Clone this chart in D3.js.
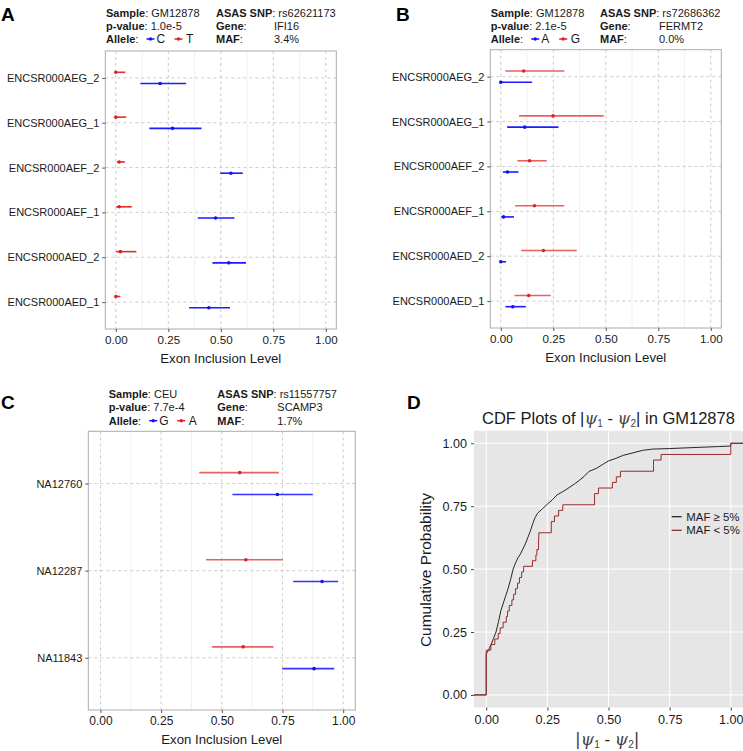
<!DOCTYPE html>
<html><head><meta charset="utf-8">
<script src="https://cdn.jsdelivr.net/npm/d3@7"></script>
<style>
body{margin:0;background:#fff}
svg{display:block;font-family:"Liberation Sans",Arial,Helvetica,sans-serif}
</style>
</head><body>
<svg id="c" width="743" height="751"></svg>
<script>
// ---------------- DATA ----------------
const xTicks = [0, 0.25, 0.5, 0.75, 1];
const xMinor = [0.125, 0.375, 0.625, 0.875];

// Panel A  (alleles: blue = C, red = T)
const aRows = ["ENCSR000AEG_2","ENCSR000AEG_1","ENCSR000AEF_2","ENCSR000AEF_1","ENCSR000AED_2","ENCSR000AED_1"];
const aRedPsi  = [0.000, 0.000, 0.016, 0.016, 0.022, 0.000];
const aRedLo   = [0.000, 0.000, 0.006, 0.002, 0.002, 0.000];
const aRedHi   = [0.045, 0.050, 0.043, 0.076, 0.098, 0.022];
const aBluePsi = [0.211, 0.270, 0.548, 0.475, 0.538, 0.443];
const aBlueLo  = [0.117, 0.160, 0.497, 0.390, 0.460, 0.349];
const aBlueHi  = [0.335, 0.408, 0.605, 0.565, 0.620, 0.544];
const aInfo    = ["GM12878", "1.0e-5", "rs62621173", "IFI16", "3.4%"];
const aAlleles = ["C", "T"];

// Panel B  (blue = A, red = G)
const bRows = aRows;
const bRedPsi  = [0.109, 0.249, 0.137, 0.160, 0.203, 0.133];
const bRedLo   = [0.022, 0.087, 0.079, 0.068, 0.097, 0.065];
const bRedHi   = [0.303, 0.490, 0.219, 0.302, 0.362, 0.238];
const bBluePsi = [0.000, 0.114, 0.032, 0.013, 0.000, 0.057];
const bBlueLo  = [0.000, 0.030, 0.010, 0.002, 0.000, 0.022];
const bBlueHi  = [0.149, 0.275, 0.084, 0.063, 0.025, 0.119];
const bInfo    = ["GM12878", "2.1e-5", "rs72686362", "FERMT2", "0.0%"];
const bAlleles = ["A", "G"];

// Panel C  (blue = G, red = A)
const cRows = ["NA12760","NA12287","NA11843"];
const cRedPsi  = [0.574, 0.599, 0.588];
const cRedLo   = [0.407, 0.435, 0.460];
const cRedHi   = [0.735, 0.751, 0.713];
const cBluePsi = [0.729, 0.913, 0.880];
const cBlueLo  = [0.544, 0.794, 0.749];
const cBlueHi  = [0.875, 0.979, 0.963];
const cInfo    = ["CEU", "7.7e-4", "rs11557757", "SCAMP3", "1.7%"];
const cAlleles = ["G", "A"];

// Panel D  ECDFs
const dTicks = [0, 0.25, 0.5, 0.75, 1];
// MAF < 5%: sorted |psi1 - psi2| values (n = 45)
const lowMafValues = [0,0,0,0,0,0,0,0,
  0.019,0.035,0.049,0.057,0.069,0.082,0.087,0.094,0.105,0.112,0.120,0.128,0.136,0.145,0.153,
  0.189,0.203,0.207,0.214,0.214,0.215,0.266,0.266,0.279,0.296,0.313,
  0.443,0.443,0.459,0.516,0.532,0.549,0.684,0.684,0.715,1.0,1.0];
// MAF >= 5%: cumulative curve (x, cumulative probability)
const highMafX = [0,0,0.01,0.02,0.03,0.04,0.05,0.06,0.07,0.08,0.09,0.10,0.11,0.12,0.13,0.14,0.15,0.16,0.17,0.18,0.19,0.20,0.21,0.23,0.25,0.27,0.29,0.31,0.33,0.36,0.38,0.40,0.42,0.45,0.47,0.50,0.53,0.56,0.60,0.64,0.68,0.75,0.85,0.95,1.0,1.0];
const highMafY = [0,0.162,0.18,0.20,0.225,0.25,0.29,0.335,0.365,0.395,0.425,0.46,0.50,0.525,0.545,0.56,0.58,0.60,0.625,0.65,0.68,0.705,0.722,0.74,0.758,0.775,0.795,0.806,0.818,0.838,0.852,0.868,0.888,0.90,0.912,0.93,0.94,0.952,0.962,0.972,0.977,0.979,0.983,0.987,0.989,1.0];
const legendLabels = ["MAF \u2265 5%", "MAF < 5%"];

// ---------------- DRAWING ----------------
const svg = d3.select("#c");
svg.append("rect").attr("width", 743).attr("height", 751).attr("fill", "#fff");
const BLUE = "#1010ff", RED = "#e02020";
const TXT = "#1a1a1a";

function panelLetter(t, x, y) {
  svg.append("text").attr("x", x).attr("y", y).attr("font-size", 19).attr("font-weight", "bold")
    .attr("fill", "#000").text(t);
}

function header(info, alleles, x1, x2, xv, ys) {
  const g = svg.append("g").attr("font-size", 11).attr("fill", TXT);
  function lab(x, y, bold, rest) {
    const t = g.append("text").attr("x", x).attr("y", y);
    t.append("tspan").attr("font-weight", "bold").text(bold);
    t.append("tspan").text(rest);
  }
  lab(x1, ys[0], "Sample", ": " + info[0]);
  lab(x1, ys[1], "p-value", ": " + info[1]);
  lab(x1, ys[2], "Allele", ":");
  lab(x2, ys[0], "ASAS SNP", ": " + info[2]);
  lab(x2, ys[1], "Gene", ":");
  lab(x2, ys[2], "MAF", ":");
  g.append("text").attr("x", xv).attr("y", ys[1]).text(info[3]);
  g.append("text").attr("x", xv).attr("y", ys[2]).text(info[4]);
  // allele legend
  const ky = ys[2] - 4;
  const keys = [{c: BLUE, k: x1 + 44.5, t: x1 + 50.5, a: alleles[0]}, {c: RED, k: x1 + 72.5, t: x1 + 80, a: alleles[1]}];
  keys.forEach(d => {
    g.append("line").attr("x1", d.k - 4).attr("x2", d.k + 4).attr("y1", ky).attr("y2", ky)
      .attr("stroke", d.c).attr("stroke-width", 1.5);
    g.append("circle").attr("cx", d.k).attr("cy", ky).attr("r", 1.7).attr("fill", d.c);
    g.append("text").attr("x", d.t).attr("y", ys[2]).attr("font-size", 12).text(d.a);
  });
}

function forest(o) {
  const g = svg.append("g");
  const x = d3.scaleLinear().domain([-0.05, 1.05]).range([o.left, o.right]);
  const y = d3.scalePoint().domain(o.rows).range([o.top, o.bottom]).padding(0.6);
  const dodge = y.step() * 0.125;
  // minor grid
  g.selectAll(".mn").data(xMinor).join("line")
    .attr("x1", d => x(d)).attr("x2", d => x(d)).attr("y1", o.top).attr("y2", o.bottom)
    .attr("stroke", "#ececec").attr("stroke-width", 0.8);
  // major grid (dashed)
  g.selectAll(".mj").data(xTicks).join("line")
    .attr("x1", d => x(d)).attr("x2", d => x(d)).attr("y1", o.top).attr("y2", o.bottom)
    .attr("stroke", "#c6c6c6").attr("stroke-width", 0.9).attr("stroke-dasharray", "3,3");
  g.selectAll(".hr").data(o.rows).join("line")
    .attr("x1", o.left).attr("x2", o.right).attr("y1", d => y(d)).attr("y2", d => y(d))
    .attr("stroke", "#c6c6c6").attr("stroke-width", 0.9).attr("stroke-dasharray", "3,3");
  // border
  g.append("rect").attr("x", o.left).attr("y", o.top).attr("width", o.right - o.left)
    .attr("height", o.bottom - o.top).attr("fill", "none").attr("stroke", "#ababab").attr("stroke-width", 1);
  // axes
  const ax = g.append("g").attr("transform", `translate(0,${o.bottom})`)
    .call(d3.axisBottom(x).tickValues(xTicks).tickFormat(d3.format(".2f")).tickSize(3).tickPadding(o.tpad));
  ax.select(".domain").remove();
  ax.selectAll("line").attr("stroke", "#555");
  ax.selectAll("text").attr("font-size", o.tfs).attr("fill", TXT).attr("font-family", null);
  const ay = g.append("g").attr("transform", `translate(${o.left},0)`)
    .call(d3.axisLeft(y).tickSize(3).tickPadding(3));
  ay.select(".domain").remove();
  ay.selectAll("line").attr("stroke", "#555");
  ay.selectAll("text").attr("font-size", 11).attr("fill", TXT).attr("font-family", null);
  // axis title
  g.append("text").attr("x", (o.left + o.right) / 2).attr("y", o.titleY).attr("text-anchor", "middle")
    .attr("font-size", 13.2).attr("fill", TXT).text("Exon Inclusion Level");
  // bars
  const series = [
    {c: RED, off: -dodge, psi: o.redPsi, lo: o.redLo, hi: o.redHi, op: o.redOp},
    {c: BLUE, off: dodge, psi: o.bluePsi, lo: o.blueLo, hi: o.blueHi, op: o.blueOp}
  ];
  series.forEach(s => {
    const d = o.rows.map((r, i) => ({r, psi: s.psi[i], lo: s.lo[i], hi: s.hi[i]}));
    g.append("g").selectAll("line").data(d).join("line")
      .attr("x1", e => x(e.lo)).attr("x2", e => x(e.hi))
      .attr("y1", e => y(e.r) + s.off).attr("y2", e => y(e.r) + s.off)
      .attr("stroke", s.c).attr("stroke-width", 1.6).attr("stroke-opacity", s.op);
    g.append("g").selectAll("circle").data(d).join("circle")
      .attr("cx", e => x(e.psi)).attr("cy", e => y(e.r) + s.off).attr("r", 1.8).attr("fill", s.c);
  });
}

// Panel A
panelLetter("A", 1, 21);
header(aInfo, aAlleles, 106, 216, 274, [17.3, 29.8, 43]);
forest({rows: aRows, left: 105.3, right: 336.3, top: 51, bottom: 329, tpad: 3.3, tfs: 11.6, titleY: 362.7,
  redPsi: aRedPsi, redLo: aRedLo, redHi: aRedHi, bluePsi: aBluePsi, blueLo: aBlueLo, blueHi: aBlueHi,
  redOp: 0.95, blueOp: 0.95});

// Panel B
panelLetter("B", 396, 21);
header(bInfo, bAlleles, 490.7, 600, 659, [17.3, 29.8, 43]);
forest({rows: bRows, left: 490.3, right: 721.3, top: 49.7, bottom: 328, tpad: 3.3, tfs: 11.6, titleY: 362,
  redPsi: bRedPsi, redLo: bRedLo, redHi: bRedHi, bluePsi: bBluePsi, blueLo: bBlueLo, blueHi: bBlueHi,
  redOp: 0.7, blueOp: 0.95});

// Panel C
panelLetter("C", 1, 409);
header(cInfo, cAlleles, 108.7, 217.3, 277.3, [398, 411, 424.7]);
forest({rows: cRows, left: 88.3, right: 355.3, top: 431.3, bottom: 710, tpad: 3.8, tfs: 12, titleY: 744,
  redPsi: cRedPsi, redLo: cRedLo, redHi: cRedHi, bluePsi: cBluePsi, blueLo: cBlueLo, blueHi: cBlueHi,
  redOp: 0.7, blueOp: 0.85});

// Panel D
(function () {
  const L = 474, R = 743, T = 430.7, B = 707.5;
  const g = svg.append("g");
  const x = d3.scaleLinear().domain([-0.05, 1.05]).range([L, R]);
  const y = d3.scaleLinear().domain([-0.05, 1.05]).range([B, T]);
  panelLetter("D", 407, 409);
  // title
  const t = g.append("text").attr("x", 482).attr("y", 423.5).attr("font-size", 16.5).attr("fill", TXT);
  t.append("tspan").text("CDF Plots of |");
  t.append("tspan").attr("font-family", "DejaVu Serif").attr("font-style", "italic").attr("fill", "#444").text("\u03C8");
  t.append("tspan").attr("font-size", 10).attr("dy", 3).attr("fill", "#444").text("1");
  t.append("tspan").attr("dy", -3).text(" - ");
  t.append("tspan").attr("font-family", "DejaVu Serif").attr("font-style", "italic").attr("fill", "#444").text("\u03C8");
  t.append("tspan").attr("font-size", 10).attr("dy", 3).attr("fill", "#444").text("2");
  t.append("tspan").attr("dy", -3).text("| in GM12878");

  g.append("rect").attr("x", L).attr("y", T).attr("width", R - L).attr("height", B - T).attr("fill", "#e6e6e6");
  g.selectAll(".gv").data(dTicks).join("line")
    .attr("x1", d => x(d)).attr("x2", d => x(d)).attr("y1", T).attr("y2", B)
    .attr("stroke", "#fff").attr("stroke-width", 1);
  g.selectAll(".gh").data(dTicks).join("line")
    .attr("x1", L).attr("x2", R).attr("y1", d => y(d)).attr("y2", d => y(d))
    .attr("stroke", "#fff").attr("stroke-width", 1);

  const ax = g.append("g").attr("transform", `translate(0,${B})`)
    .call(d3.axisBottom(x).tickValues(dTicks).tickFormat(d3.format(".2f")).tickSize(3).tickPadding(5));
  ax.select(".domain").remove();
  ax.selectAll("line").attr("stroke", "#444");
  ax.selectAll("text").attr("font-size", 12.6).attr("fill", TXT).attr("font-family", null);
  const ay = g.append("g").attr("transform", `translate(${L},0)`)
    .call(d3.axisLeft(y).tickValues(dTicks).tickFormat(d3.format(".2f")).tickSize(3).tickPadding(4));
  ay.select(".domain").remove();
  ay.selectAll("line").attr("stroke", "#444");
  ay.selectAll("text").attr("font-size", 12.6).attr("fill", TXT).attr("font-family", null);

  // axis labels
  g.append("text").attr("transform", "translate(431,570) rotate(-90)").attr("text-anchor", "middle")
    .attr("font-size", 15.5).attr("fill", TXT).text("Cumulative Probability");
  const xl = g.append("text").attr("x", 607.3).attr("y", 745).attr("text-anchor", "middle")
    .attr("font-size", 17).attr("fill", TXT);
  xl.append("tspan").attr("font-family", "DejaVu Serif").attr("fill", "#333").text("|");
  xl.append("tspan").attr("font-family", "DejaVu Serif").attr("font-style", "italic").attr("fill", "#444").text("\u03C8");
  xl.append("tspan").attr("font-size", 10).attr("dy", 3).attr("fill", "#444").text("1");
  xl.append("tspan").attr("dy", -3).text(" - ");
  xl.append("tspan").attr("font-family", "DejaVu Serif").attr("font-style", "italic").attr("fill", "#444").text("\u03C8");
  xl.append("tspan").attr("font-size", 10).attr("dy", 3).attr("fill", "#444").text("2");
  xl.append("tspan").attr("dy", -3).attr("font-family", "DejaVu Serif").attr("fill", "#333").text("|");

  // clip
  svg.append("clipPath").attr("id", "dclip").append("rect")
    .attr("x", L).attr("y", T).attr("width", R - L).attr("height", B - T);
  const cg = g.append("g").attr("clip-path", "url(#dclip)");

  // high MAF curve
  const hi = [[-0.05, 0]].concat(highMafX.map((v, i) => [v, highMafY[i]])).concat([[1.05, 1]]);
  cg.append("path").datum(hi)
    .attr("d", d3.line().x(d => x(d[0])).y(d => y(d[1])))
    .attr("fill", "none").attr("stroke", "#262626").attr("stroke-width", 1);

  // low MAF ECDF
  const n = lowMafValues.length;
  const lo = [[-0.05, 0]].concat(lowMafValues.map((v, i) => [v, (i + 1) / n])).concat([[1.05, 1]]);
  cg.append("path").datum(lo)
    .attr("d", d3.line().x(d => x(d[0])).y(d => y(d[1])).curve(d3.curveStepAfter))
    .attr("fill", "none").attr("stroke", "#9a2a2a").attr("stroke-width", 1);

  // legend
  const cols = ["#1a1a1a", "#8b1a1a"];
  legendLabels.forEach((lab, i) => {
    const yy = 516.7 + i * 13.6;
    g.append("line").attr("x1", 671.7).attr("x2", 681.7).attr("y1", yy).attr("y2", yy)
      .attr("stroke", cols[i]).attr("stroke-width", 1.2);
    g.append("text").attr("x", 686.3).attr("y", yy + 4.1).attr("font-size", 11.4).attr("fill", TXT).text(lab);
  });
})();
</script>
</body></html>
